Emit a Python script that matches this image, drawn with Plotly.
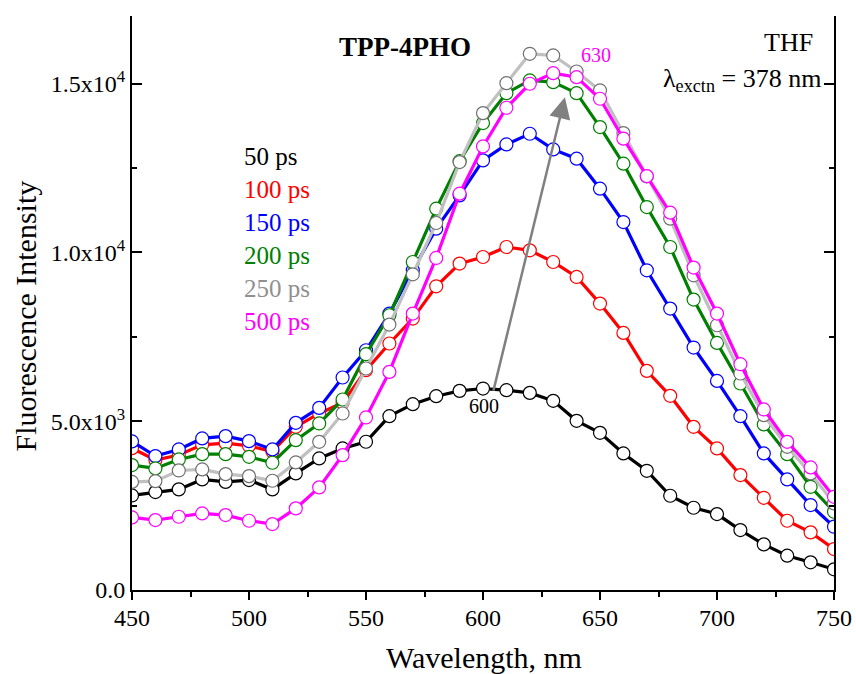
import plotly.graph_objects as go

wavelength = list(range(450, 751, 10))

series_names = ["50 ps", "100 ps", "150 ps", "200 ps", "250 ps", "500 ps"]

i_50ps = [2800, 2900, 2980, 3275, 3200, 3255, 2980, 3453, 3897, 4193, 4390, 5149, 5504, 5740, 5898, 5967,
          5918, 5838, 5602, 5010, 4655, 4045, 3531, 2791, 2436, 2249, 1775, 1351, 1016, 820, 612]
i_100ps = [4200, 3850, 4000, 4300, 4350, 4270, 4100, 4833, 5228, 5550, 6510, 7300, 8038, 8995, 9667, 9862,
           10158, 10060, 9715, 9271, 8483, 7614, 6490, 5751, 4833, 4193, 3403, 2731, 2051, 1707, 1213]
i_150ps = [4400, 3965, 4163, 4489, 4557, 4409, 4163, 4951, 5394, 6293, 7101, 8187, 9469, 10702, 11688, 12724,
           13197, 13513, 13049, 12774, 11886, 10898, 9469, 8335, 7181, 6193, 5149, 4045, 3275, 2515, 1874]
i_200ps = [3700, 3600, 3867, 4024, 4024, 3945, 3768, 4439, 4932, 5642, 6983, 8137, 9715, 11294, 12700, 13828,
           14715, 15091, 15041, 14715, 13710, 12626, 11342, 10158, 8602, 7318, 6116, 4903, 4024, 3057, 2318]
i_250ps = [3200, 3225, 3540, 3571, 3432, 3373, 3235, 3778, 4389, 5228, 6560, 7861, 9350, 10869, 12673, 14124,
           15011, 15881, 15831, 15357, 14795, 13532, 12250, 10998, 9321, 7841, 6412, 5178, 4241, 3453, 2565]
i_500ps = [2150, 2071, 2170, 2268, 2219, 2051, 1953, 2417, 3039, 3995, 5110, 6460, 8187, 9834, 11738, 13138,
           14283, 14993, 15307, 15189, 14549, 13366, 12259, 11176, 9549, 8187, 6687, 5347, 4389, 3630, 2761]

series_values = [i_50ps, i_100ps, i_150ps, i_200ps, i_250ps, i_500ps]
line_colors = ["#000000", "#FF0000", "#0000FF", "#008000", "#C0C0C0", "#FF00FF"]
marker_edge = ["#000000", "#FF0000", "#0000FF", "#008000", "#707070", "#FF00FF"]
label_colors = ["#000000", "#FF0000", "#0000FF", "#008000", "#909090", "#FF00FF"]

y_tickvals = [0, 5000, 10000, 15000]
y_ticktext = ["0.0", "5.0x10<sup>3</sup>", "1.0x10<sup>4</sup>", "1.5x10<sup>4</sup>"]
x_tickvals = [450, 500, 550, 600, 650, 700, 750]

FONT = "Liberation Serif"

fig = go.Figure()
for name, vals, lc, mc in zip(series_names, series_values, line_colors, marker_edge):
    fig.add_trace(go.Scatter(
        x=wavelength, y=vals, mode="lines+markers", name=name,
        line=dict(color=lc, width=3.2),
        marker=dict(symbol="circle", size=13, color="white", line=dict(color=mc, width=1.2)),
        showlegend=False,
    ))

annotations = []
# series labels (legend)
for k, (name, col) in enumerate(zip(series_names, label_colors)):
    annotations.append(dict(
        text=name, xref="paper", yref="paper", x=0.1567, y=0.7544 - k * 0.0575,
        xanchor="left", yanchor="middle", showarrow=False,
        font=dict(family=FONT, size=25, color=col)))

annotations += [
    dict(text="<b>TPP-4PHO</b>", xref="paper", yref="paper", x=0.389, y=0.946,
         xanchor="center", yanchor="middle", showarrow=False, font=dict(family=FONT, size=27, color="black")),
    dict(text="THF", xref="paper", yref="paper", x=0.9345, y=0.9547,
         xanchor="center", yanchor="middle", showarrow=False, font=dict(family=FONT, size=26, color="black")),
    dict(text="λ<sub>exctn</sub> = 378 nm", xref="paper", yref="paper", x=0.984, y=0.889,
         xanchor="right", yanchor="middle", showarrow=False, font=dict(family=FONT, size=26, color="black")),
    dict(text="630", xref="paper", yref="paper", x=0.661, y=0.932,
         xanchor="center", yanchor="middle", showarrow=False, font=dict(family=FONT, size=20, color="#FF00FF")),
    dict(text="600", xref="paper", yref="paper", x=0.501, y=0.3206,
         xanchor="center", yanchor="middle", showarrow=False, font=dict(family=FONT, size=20, color="black")),
    dict(text="", xref="x", yref="y", axref="x", ayref="y", x=635, y=14590, ax=604.3, ay=5860,
         showarrow=True, arrowhead=2, arrowsize=1.7, arrowwidth=2.5, arrowcolor="#808080", standoff=0),
    dict(text="Wavelength, nm", xref="paper", yref="paper", x=0.501, y=-0.117,
         xanchor="center", yanchor="middle", showarrow=False, font=dict(family=FONT, size=30, color="black")),
    dict(text="Fluorescence Intensity", xref="paper", yref="paper", x=-0.152, y=0.477, textangle=-90,
         xanchor="center", yanchor="middle", showarrow=False, font=dict(family=FONT, size=30, color="black")),
]

fig.update_layout(
    width=856, height=674,
    margin=dict(l=132, r=22, t=16, b=84, autoexpand=False),
    paper_bgcolor="white", plot_bgcolor="white",
    font=dict(family=FONT, size=24, color="black"),
    annotations=annotations,
    xaxis=dict(
        range=[450, 750], tickvals=x_tickvals, ticks="outside", ticklen=8, tickwidth=1.5,
        tickcolor="black", showline=True, linewidth=2, linecolor="black", mirror=False,
        showgrid=False, zeroline=False, tickfont=dict(family=FONT, size=24), automargin=False,
        minor=dict(dtick=25, tick0=450, ticks="outside", ticklen=5, tickwidth=1.5, tickcolor="black", showgrid=False),
        ticklabelstandoff=-3,
    ),
    xaxis2=dict(
        range=[450, 750], overlaying="x", side="top", anchor="y", matches="x",
        tickvals=x_tickvals, ticks="inside", ticklen=9, tickwidth=1.5, tickcolor="black",
        showticklabels=False, showline=True, linewidth=2, linecolor="black",
        showgrid=False, zeroline=False, automargin=False,
        minor=dict(dtick=25, tick0=450, ticks="inside", ticklen=6, tickwidth=1.5, tickcolor="black", showgrid=False),
    ),
    yaxis=dict(
        range=[0, 17000], tickvals=y_tickvals, ticktext=y_ticktext, ticks="inside", ticklen=10,
        tickwidth=1.5, tickcolor="black", showline=True, linewidth=2, linecolor="black", mirror="ticks",
        showgrid=False, zeroline=False, tickfont=dict(family=FONT, size=24), automargin=False,
        minor=dict(tickvals=[2500, 7500, 12500], ticks="inside", ticklen=5, tickwidth=1.5, tickcolor="black", showgrid=False),
    ),
)

fig.write_html("out.html")
